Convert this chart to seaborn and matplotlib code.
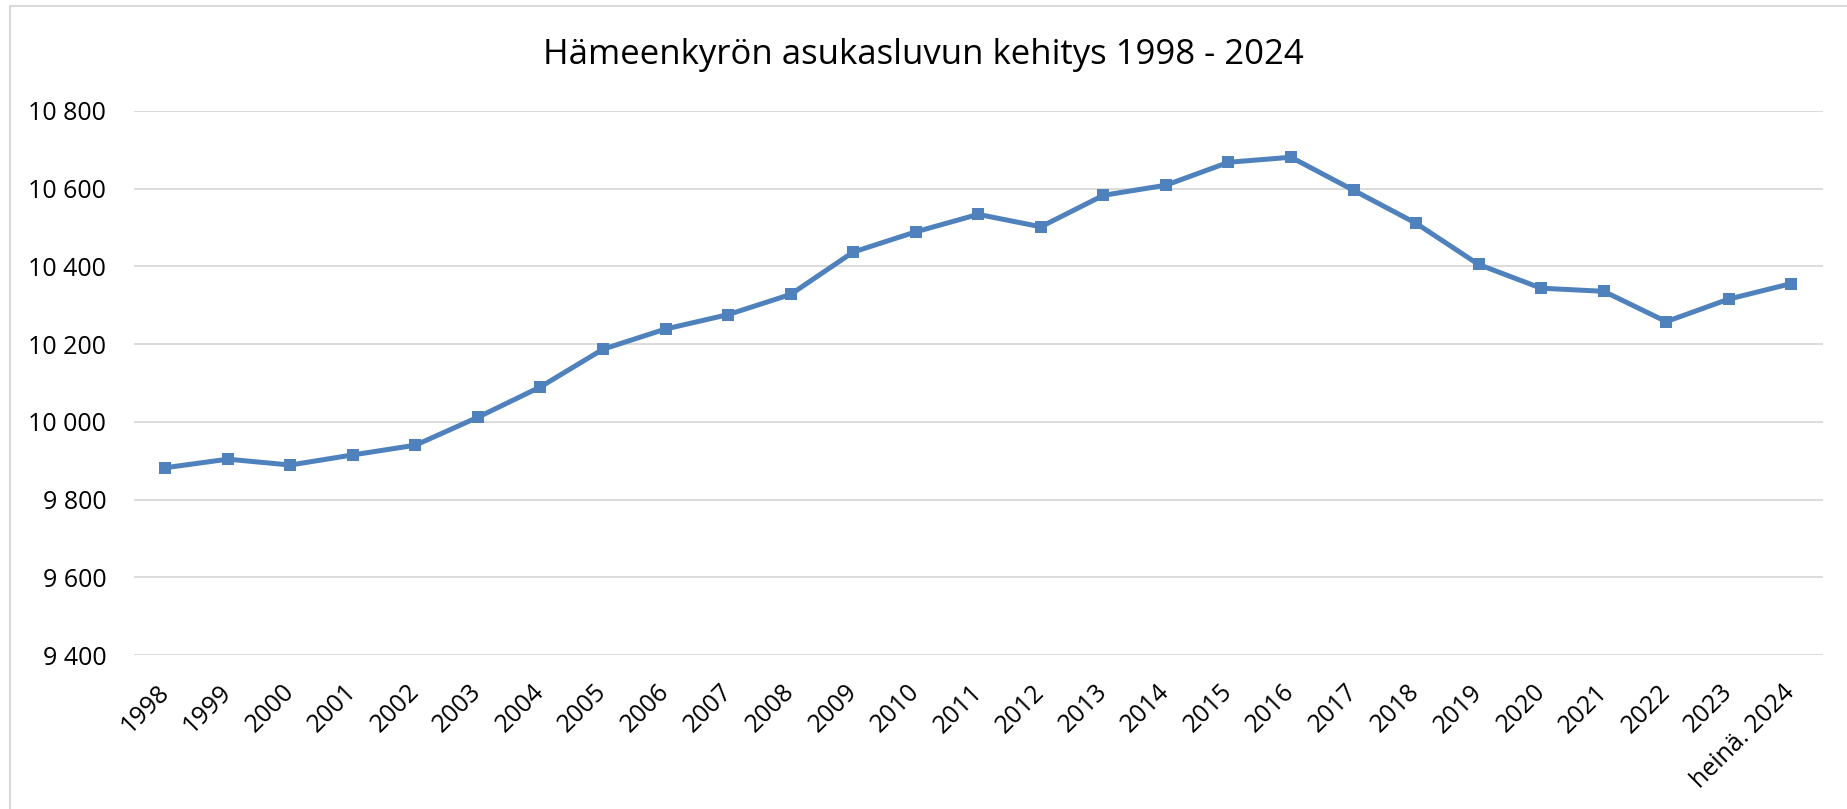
import matplotlib
matplotlib.use("Agg")
import matplotlib.pyplot as plt
from matplotlib.lines import Line2D
from matplotlib.ticker import FuncFormatter
import pandas as pd
import seaborn as sns

YEARS = [str(y) for y in range(1998, 2024)] + ["heinä. 2024"]
POPULATION = [9882, 9904, 9889, 9915, 9940, 10012, 10090, 10187, 10239, 10276,
              10328, 10437, 10489, 10534, 10502, 10583, 10609, 10668, 10681, 10596,
              10511, 10405, 10344, 10336, 10258, 10316, 10356]
Y_TICKS = [9400, 9600, 9800, 10000, 10200, 10400, 10600, 10800]
TITLE = "Hämeenkyrön asukasluvun kehitys 1998 - 2024"

LINE_COLOR = "#4F81BD"
GRID_COLOR = "#D9D9D9"

sns.set_theme(style="white")
plt.rcParams["font.family"] = ["Open Sans", "DejaVu Sans"]
plt.rcParams["text.color"] = "black"
plt.rcParams["xtick.color"] = "black"
plt.rcParams["ytick.color"] = "black"

df = pd.DataFrame({"vuosi": YEARS, "asukkaat": POPULATION})

fig = plt.figure(figsize=(18.47, 8.09), dpi=100)
ax = fig.add_axes([0.0725, 0.1903, 0.9143, 0.6725])

sns.lineplot(data=df, x="vuosi", y="asukkaat", ax=ax, color=LINE_COLOR,
             linewidth=3.6, marker="s", markersize=9, markeredgewidth=0,
             sort=False)

ax.set_xlim(-0.5, len(YEARS) - 0.5)
ax.set_ylim(Y_TICKS[0], Y_TICKS[-1])
ax.set_yticks(Y_TICKS)
ax.yaxis.set_major_formatter(FuncFormatter(lambda v, _: f"{int(v):,}".replace(",", " ")))
ax.grid(axis="y", color=GRID_COLOR, linewidth=1.3)
ax.set_axisbelow(True)
for s in ax.spines.values():
    s.set_visible(False)
ax.set_xlabel("")
ax.set_ylabel("")
ax.tick_params(axis="y", length=0, pad=20, labelsize=18)
ax.tick_params(axis="x", length=0, pad=24, labelsize=18)
plt.setp(ax.get_xticklabels(), rotation=45, ha="right", va="center",
         rotation_mode="anchor")

fig.text(0.5, 0.932, TITLE, ha="center", va="center", fontsize=25)

# chart-area frame (top and left edges visible in the source)
fig.add_artist(Line2D([10 / 1847, 1], [1 - 6 / 809, 1 - 6 / 809],
                      transform=fig.transFigure, color=GRID_COLOR, linewidth=1.5))
fig.add_artist(Line2D([10 / 1847, 10 / 1847], [0, 1 - 6 / 809],
                      transform=fig.transFigure, color=GRID_COLOR, linewidth=1.5))

fig.savefig("out.png", dpi=100)
plt.close(fig)
